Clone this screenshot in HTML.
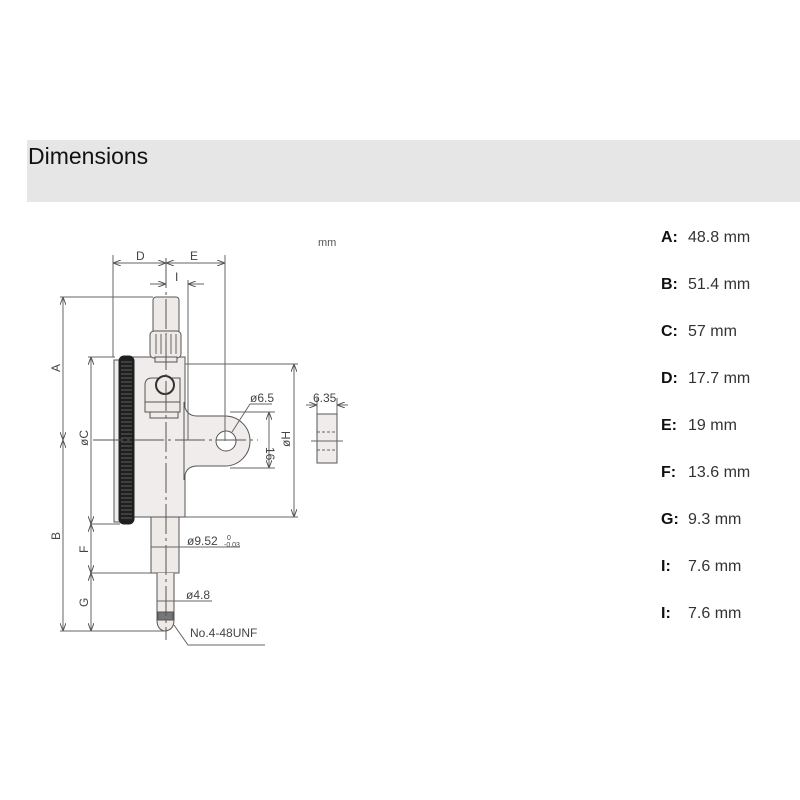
<!DOCTYPE html>
<html><head><meta charset="utf-8"><style>
html,body{margin:0;padding:0;background:#fff;width:800px;height:800px;overflow:hidden;font-family:"Liberation Sans",sans-serif}
.band{position:absolute;left:27px;top:140px;width:773px;height:62px;background:#e6e6e6}
.band span{position:absolute;left:1px;top:3px;font-size:23px;color:#111}
.row{position:absolute;left:661px;font-size:16px;color:#333}
.row b{color:#111;display:inline-block;width:27px}
</style></head><body>
<div class="band"><span>Dimensions</span></div>
<div class="row" style="top:229px"><b>A:</b>48.8 mm</div>
<div class="row" style="top:276px"><b>B:</b>51.4 mm</div>
<div class="row" style="top:323px"><b>C:</b>57 mm</div>
<div class="row" style="top:370px"><b>D:</b>17.7 mm</div>
<div class="row" style="top:417px"><b>E:</b>19 mm</div>
<div class="row" style="top:464px"><b>F:</b>13.6 mm</div>
<div class="row" style="top:511px"><b>G:</b>9.3 mm</div>
<div class="row" style="top:558px"><b>I:</b>7.6 mm</div>
<div class="row" style="top:605px"><b>I:</b>7.6 mm</div>
<svg width="800" height="800" style="position:absolute;left:0;top:0" font-family="Liberation Sans Narrow, Liberation Sans, sans-serif" font-size="12" fill="#444">
<defs><marker id="a" markerWidth="8" markerHeight="6" refX="8" refY="3" orient="auto-start-reverse"><path d="M0,0L8,3L0,6" fill="none" stroke="#555" stroke-width="1"/></marker></defs>
<g stroke="#666" stroke-width="1" fill="none">
<rect x="133" y="357" width="52" height="160" fill="#efeceb" stroke="#555"/>
<path d="M184,402 Q185,416 197,416 L225,416 A25,25 0 0 1 225,466 L197,466 Q185,466 184,480 Z" fill="#efeceb" stroke="#555"/>
<circle cx="226" cy="441" r="10" fill="#fff" stroke="#555"/>
<rect x="114" y="360" width="6" height="162" fill="#eee" stroke="#555"/>
<rect x="119" y="356" width="15" height="168" rx="5" fill="#1e1e1e" stroke="#222"/>
<g stroke="#777" stroke-width="0.7">
<path d="M121,362H132M121,366H132M121,370H132M121,374H132M121,378H132M121,382H132M121,386H132M121,390H132M121,394H132M121,398H132M121,402H132M121,406H132M121,410H132M121,414H132M121,418H132M121,422H132M121,426H132M121,430H132M121,434H132M121,438H132M121,442H132M121,446H132M121,450H132M121,454H132M121,458H132M121,462H132M121,466H132M121,470H132M121,474H132M121,478H132M121,482H132M121,486H132M121,490H132M121,494H132M121,498H132M121,502H132M121,506H132M121,510H132M121,514H132M121,518H132"/></g>
<rect x="153" y="297" width="26" height="36" rx="3" fill="#eeeae8" stroke="#555"/>
<rect x="150" y="331" width="31" height="27" rx="4" fill="#eeeae8" stroke="#555"/>
<path d="M156,334V354M161,334V354M166,334V354M171,334V354M176,334V354" stroke="#666"/>
<rect x="155" y="357" width="22" height="5" fill="#eeeae8" stroke="#555"/>
<path d="M145,412V385Q145,378 152,378H180V412Z" fill="#eeeae8" stroke="#555"/>
<path d="M145,402H180M150,412V418H178V412" stroke="#555"/>
<circle cx="165" cy="385" r="9" fill="#eeeae8" stroke="#333" stroke-width="2"/>
<rect x="151" y="517" width="28" height="56" fill="#eeeae8" stroke="#555"/>
<path d="M157,573V620Q157,630 165,631Q174,630 174,620V573" fill="#eeeae8" stroke="#555"/>
<rect x="158" y="612" width="15" height="8" fill="#777" stroke="#555"/>
<path d="M166,258V640M93,440H258" stroke="#555" stroke-dasharray="30,4,3,4"/>
<path d="M113,255V357M225,255V441M188,280V440M60,297H153M88,357H115M90,524H120M90,573H151M60,631H165M185,364H298M185,517H298M230,412H275M230,468H275M317,398V414M337,398V414"/>
<path d="M113,263H166" marker-start="url(#a)" marker-end="url(#a)"/>
<path d="M166,263H225" marker-start="url(#a)" marker-end="url(#a)"/>
<path d="M150,284H166" marker-end="url(#a)"/>
<path d="M204,284H188" marker-end="url(#a)"/>
<path d="M63,297V440" marker-start="url(#a)" marker-end="url(#a)"/>
<path d="M63,440V631" marker-start="url(#a)" marker-end="url(#a)"/>
<path d="M91,357V524" marker-start="url(#a)" marker-end="url(#a)"/>
<path d="M91,524V573" marker-start="url(#a)" marker-end="url(#a)"/>
<path d="M91,573V631" marker-start="url(#a)" marker-end="url(#a)"/>
<path d="M294,364V517" marker-start="url(#a)" marker-end="url(#a)"/>
<path d="M269,412V468" marker-start="url(#a)" marker-end="url(#a)"/>
<path d="M151,547H240M157,601H212"/>
<path d="M306,405H317" marker-end="url(#a)"/>
<path d="M348,405H337" marker-end="url(#a)"/>
<rect x="317" y="414" width="20" height="49" fill="#efeceb" stroke="#555"/>
<path d="M317,432H337M317,450H337" stroke-dasharray="3,2"/>
<path d="M311,441H343"/>
<path d="M232,432L250,404H272M174,625L188,645H265"/>
</g>
<text x="318" y="246" font-size="11" fill="#555">mm</text>
<text x="136" y="260">D</text>
<text x="190" y="260">E</text>
<text x="175" y="281">I</text>
<text x="250" y="402">ø6.5</text>
<text x="313" y="402">6.35</text>
<text x="187" y="545">ø9.52</text>
<text x="227" y="540" font-size="7">0</text>
<text x="224" y="547" font-size="7">-0.03</text>
<text x="186" y="599">ø4.8</text>
<text x="190" y="637">No.4-48UNF</text>
<g font-size="12">
<text transform="translate(60,372) rotate(-90)">A</text>
<text transform="translate(60,540) rotate(-90)">B</text>
<text transform="translate(88,446) rotate(-90)">øC</text>
<text transform="translate(88,553) rotate(-90)">F</text>
<text transform="translate(88,607) rotate(-90)">G</text>
<text transform="translate(266,447) rotate(90)">16</text>
<text transform="translate(290,447) rotate(-90)">øH</text>
</g>
</svg>
</body></html>
